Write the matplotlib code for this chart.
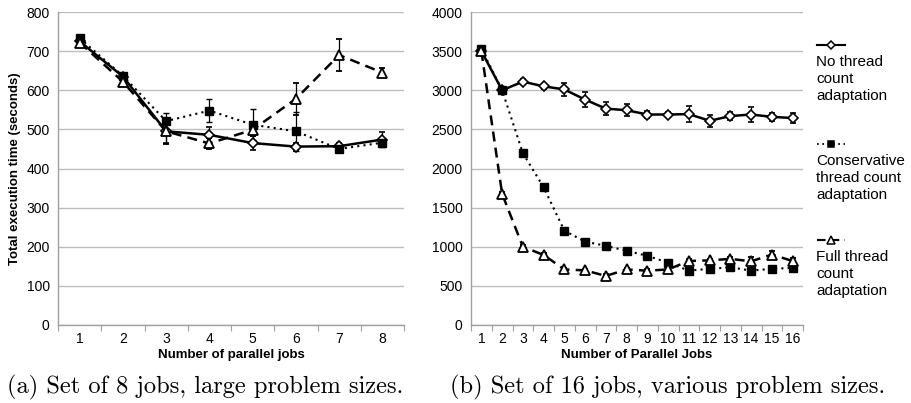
import matplotlib
matplotlib.use("Agg")
import matplotlib.pyplot as plt
from matplotlib.lines import Line2D
import numpy as np

# ---- data ----
jobs_a = [1, 2, 3, 4, 5, 6, 7, 8]
none_a = [725, 635, 495, 486, 465, 456, 457, 474]
none_a_err = [5, 5, 30, 20, 18, 10, 8, 20]
cons_a = [733, 637, 521, 548, 512, 495, 450, 466]
cons_a_err = [5, 5, 20, 30, 40, 50, 8, 10]
full_a = [722, 622, 495, 464, 499, 578, 690, 645]
full_a_err = [5, 5, 32, 15, 15, 40, 42, 12]

jobs_b = list(range(1, 17))
none_b = [3500, 3000, 3110, 3050, 3010, 2880, 2765, 2745, 2690, 2690, 2695, 2610, 2670, 2690, 2660, 2645]
none_b_err = [30, 30, 30, 30, 80, 100, 80, 80, 50, 30, 100, 80, 50, 100, 50, 60]
cons_b = [3530, 3000, 2195, 1760, 1205, 1065, 1012, 948, 884, 796, 695, 718, 737, 695, 718, 730]
cons_b_err = [20, 20, 20, 20, 20, 20, 20, 40, 20, 20, 20, 20, 20, 30, 20, 20]
full_b = [3500, 1675, 1000, 895, 710, 698, 627, 710, 694, 710, 818, 826, 845, 814, 900, 818]
full_b_err = [20, 20, 20, 20, 20, 20, 20, 20, 20, 20, 30, 20, 20, 50, 40, 40]

legend_labels = ["No thread\ncount\nadaptation",
                 "Conservative\nthread count\nadaptation",
                 "Full thread\ncount\nadaptation"]
captions = ["(a) Set of 8 jobs, large problem sizes.",
            "(b) Set of 16 jobs, various problem sizes."]

plt.rcParams['font.family'] = ['Liberation Sans', 'DejaVu Sans']

W, H = 911, 403
fig = plt.figure(figsize=(W / 100, H / 100), dpi=100)

def fx(px):
    return px / W

def fy(py):
    return 1 - py / H

ax1 = fig.add_axes([fx(58), fy(325), fx(404) - fx(58), fy(12) - fy(325)])
ax2 = fig.add_axes([fx(471), fy(325), fx(803) - fx(471), fy(12) - fy(325)])

styles = [
    dict(ls='-', lw=1.8, marker='D', ms=5.5, mfc='white', mec='black', mew=1.2),
    dict(ls=(0, (1, 2)), lw=1.5, marker='s', ms=6.0, mfc='black', mec='black', mew=1.0),
    dict(ls=(0, (4, 2.5)), lw=1.8, marker='^', ms=7, mfc='white', mec='black', mew=1.3),
]

def draw(ax, x, series, ymax, ystep):
    for (y, e), st in zip(series, styles):
        ax.errorbar(x, y, yerr=e, color='black', ecolor='black', elinewidth=0.9,
                    capsize=2.5, capthick=0.9, zorder=3, **st)
    n = len(x)
    ax.set_xlim(0.5, n + 0.5)
    ax.set_ylim(0, ymax)
    ax.set_yticks(np.arange(0, ymax + 1, ystep))
    ax.yaxis.grid(True, color='#bdbdbd', lw=1.0)
    ax.set_axisbelow(True)
    ax.set_xticks(np.arange(0.5, n + 1, 1.0))
    ax.set_xticklabels([])
    ax.set_xticks(x, minor=True)
    ax.set_xticklabels([str(v) for v in x], minor=True)
    ax.tick_params(axis='x', which='major', length=4, color='#a0a0a0', direction='out')
    ax.tick_params(axis='x', which='minor', length=0, labelsize=10, pad=5)
    ax.tick_params(axis='y', length=0, labelsize=10, pad=6)
    for s in ['top', 'right']:
        ax.spines[s].set_visible(False)
    for s in ['left', 'bottom']:
        ax.spines[s].set_color('#a0a0a0')
        ax.spines[s].set_linewidth(1.0)

draw(ax1, jobs_a, [(none_a, none_a_err), (cons_a, cons_a_err), (full_a, full_a_err)], 800, 100)
draw(ax2, jobs_b, [(none_b, none_b_err), (cons_b, cons_b_err), (full_b, full_b_err)], 4000, 500)

ax1.set_xlabel("Number of parallel jobs", fontsize=9.5, fontweight='bold', labelpad=2)
ax2.set_xlabel("Number of Parallel Jobs", fontsize=9.5, fontweight='bold', labelpad=2)
ax1.set_ylabel("Total execution time (seconds)", fontsize=9.5, fontweight='bold', labelpad=4)

# legend drawn at the right
leg_y = [45, 144, 240]
leg_ms = [4.2, 4.8, 5.5]
for st, lab, yy, ms in zip(styles, legend_labels, leg_y, leg_ms):
    fig.add_artist(Line2D([fx(817), fx(845)], [fy(yy), fy(yy)], color='black',
                          transform=fig.transFigure, ls=st['ls'], lw=st['lw'] * 0.85))
    fig.add_artist(Line2D([fx(831)], [fy(yy)], color='black', ls='none',
                          transform=fig.transFigure,
                          marker=st['marker'], ms=ms, mfc=st['mfc'], mec=st['mec'], mew=1.1))
    fig.text(fx(816), fy(yy + 10), lab, fontsize=11, va='top', ha='left', linespacing=1.27)

fig.text(fx(7), fy(387), captions[0], fontsize=17.6, family='cmr10', va='center', ha='left')
fig.text(fx(450), fy(387), captions[1], fontsize=17.6, family='cmr10', va='center', ha='left')

fig.savefig("out.png", dpi=100)
